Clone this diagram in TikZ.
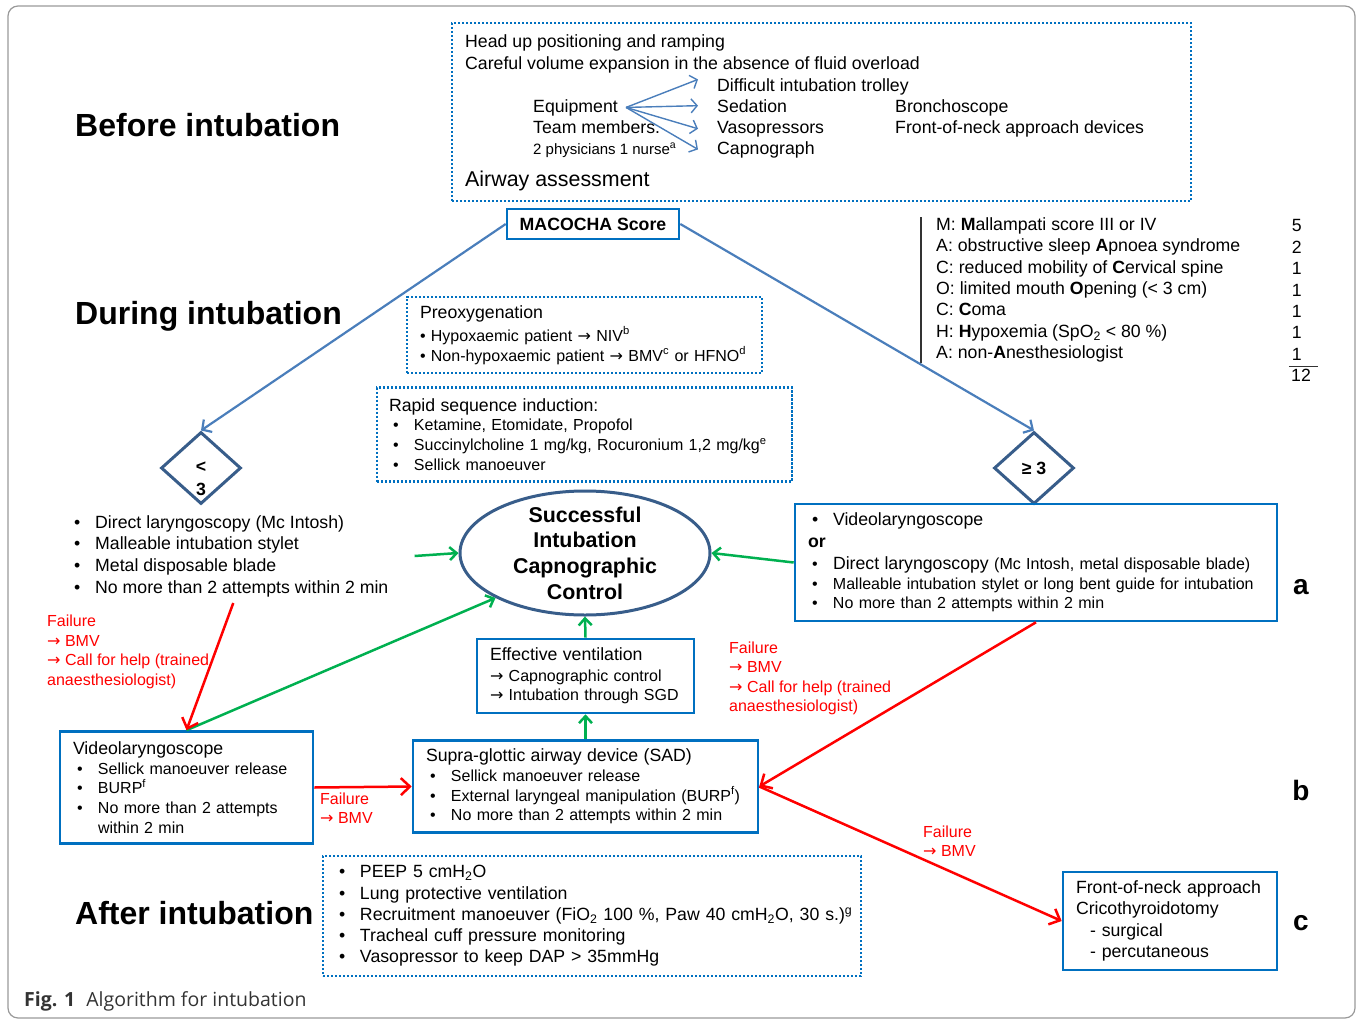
\documentclass[tikz,border=0pt]{standalone}
\usepackage{fontspec}
\setmainfont{Liberation Sans}
\newfontfamily\capfont{Open Sans}
\newfontfamily\symfont{DejaVu Sans}
\usetikzlibrary{shapes.geometric, arrows.meta}

\definecolor{boxblue}{RGB}{0,112,192}
\definecolor{linkblue}{RGB}{74,126,187}
\definecolor{shapeblue}{RGB}{56,93,138}
\definecolor{okgreen}{RGB}{0,176,80}
\definecolor{failred}{RGB}{255,0,0}

\newcommand{\bul}{\makebox[25pt][l]{\hspace{4pt}\textbullet}}
\newcommand{\arr}{{\symfont →}}

\begin{document}
\begin{tikzpicture}[x=1pt, y=-1pt,
    txt/.style={inner sep=0pt, anchor=base west, font={\fontsize{17.7}{21.4}\selectfont}},
    heading/.style={inner sep=0pt, anchor=west, font={\fontsize{32}{38}\selectfont\bfseries}},
    tag/.style={inner sep=0pt, font={\fontsize{28}{32}\selectfont\bfseries}},
    solidbox/.style={rectangle, draw=boxblue, line width=2.6pt, inner xsep=13pt, inner ysep=0pt, align=left},
    dotbox/.style={rectangle, draw=boxblue, line width=2.6pt, dash pattern=on 2.4pt off 1.6pt, inner xsep=13pt, inner ysep=0pt, align=left},
    decision/.style={diamond, draw=shapeblue, line width=3pt, minimum width=80pt, minimum height=72pt, inner sep=0pt, font={\fontsize{17.7}{23}\selectfont\bfseries}},
    failtext/.style={inner sep=0pt, anchor=west, align=left, text=failred, font={\fontsize{16}{19.5}\selectfont}},
    bluearrow/.style={draw=linkblue, line width=2.2pt, -{Straight Barb[length=7pt, width=15pt]}},
    thinarrow/.style={draw=linkblue, line width=1.4pt, -{Straight Barb[length=6pt, width=14pt]}},
    greenarrow/.style={draw=okgreen, line width=2.5pt, -{Straight Barb[length=7pt, width=13pt]}},
    redarrow/.style={draw=failred, line width=2.5pt, -{Straight Barb[length=9pt, width=17pt]}}
]
\useasboundingbox (0,0) rectangle (1361,1020);
\draw[black!40, line width=1.2pt, rounded corners=10pt] (8,6) rectangle (1355,1018);

% Phases
\node[heading] (before) at (75,125) {Before intubation};
\node[heading] (during) at (75,316) {During intubation};
\node[heading] (after) at (75,913) {After intubation};

% Preparation
\node[dotbox, minimum width=739pt, minimum height=178pt] (prep) at (821.5,112) {};
\node[txt] (headup) at (465,47) {Head up positioning and ramping};
\node[txt] (volume) at (465,69) {Careful volume expansion in the absence of fluid overload};
\node[txt] (trolley) at (717,91) {Difficult intubation trolley};
\node[txt] (equip) at (533,112) {Equipment};
\node[txt] (sedation) at (717,112) {Sedation};
\node[txt] (broncho) at (895,112) {Bronchoscope};
\node[txt] (team) at (533,133) {Team members.};
\node[txt] (vaso) at (717,133) {Vasopressors};
\node[txt] (fonadev) at (895,133) {Front-of-neck approach devices};
\node[txt, font={\fontsize{15}{18}\selectfont}] (nurse) at (533,154) {2 physicians 1 nurse\textsuperscript{a}};
\node[txt] (capno) at (717,154) {Capnograph};
\node[txt, font={\fontsize{21.4}{25}\selectfont}] (airway) at (465,186) {Airway assessment};

% Score
\node[solidbox, minimum width=172pt, minimum height=30pt, inner xsep=0pt, font={\fontsize{17.7}{21}\selectfont\bfseries}] (macocha) at (593,224) {MACOCHA Score};
\node[inner sep=0pt, anchor=west, align=left, font={\fontsize{17.7}{21.4}\selectfont}] (crit) at (936,290) {M: \textbf{M}allampati score III or IV\\
  A: obstructive sleep \textbf{A}pnoea syndrome\\
  C: reduced mobility of \textbf{C}ervical spine\\
  O: limited mouth \textbf{O}pening (< 3 cm)\\
  C: \textbf{C}oma\\
  H: \textbf{H}ypoxemia (SpO\textsubscript{2} < 80 \%)\\
  A: non-\textbf{A}nesthesiologist};
\node[inner sep=0pt, anchor=east, align=right, font={\fontsize{17.7}{21.4}\selectfont}] (points) at (1302,290) {5\\2\\1\\1\\1\\1\\1};
\node[inner sep=0pt, font={\fontsize{17.7}{21.4}\selectfont}] (total) at (1301,375) {12};
\draw[black!80, line width=1.2pt] ([xshift=-15pt]crit.north west) -- ([xshift=-15pt]crit.south west);
\draw[black!80, line width=1pt] ([xshift=-2pt,yshift=2pt]total.north west) -- ([xshift=7pt,yshift=2pt]total.north east);

% Induction
\node[dotbox, minimum height=76pt, text width=329pt, font={\fontsize{16}{20}\selectfont}] (preox) at (584.5,335) {{\fontsize{17.7}{21}\selectfont Preoxygenation}\\[3pt]
  • Hypoxaemic patient \arr{} NIV\textsuperscript{b}\\
  \mbox{• Non-hypoxaemic patient \arr{} BMV\textsuperscript{c} or HFNO\textsuperscript{d}}};
\node[dotbox, minimum height=94pt, text width=391pt, inner xsep=12pt, font={\fontsize{16}{19.7}\selectfont}] (rsi) at (584.5,434.5) {{\fontsize{17.7}{21}\selectfont Rapid sequence induction:}\\
  \bul Ketamine, Etomidate, Propofol\\
  \mbox{\bul Succinylcholine 1 mg/kg, Rocuronium 1,2 mg/kg\textsuperscript{e}}\\
  \bul Sellick manoeuver};

% Decisions
\node[decision, label={[align=center, inner sep=0pt, yshift=-11pt, font={\fontsize{17.7}{23}\selectfont\bfseries}]center:{<\\3}}] (low) at (201,468) {};
\node[decision] (high) at (1034,468) {≥ 3};

\node[inner sep=0pt, anchor=west, align=left, font={\fontsize{17.7}{21.7}\selectfont}] (dlist) at (70,556) {\bul Direct laryngoscopy (Mc Intosh)\\
  \bul Malleable intubation stylet\\
  \bul Metal disposable blade\\
  \bul No more than 2 attempts within 2 min};

\node[ellipse, draw=shapeblue, line width=3pt, minimum width=250pt, minimum height=124pt, inner sep=0pt,
  label={[align=center, inner sep=0pt, font={\fontsize{21.4}{25.7}\selectfont\bfseries}]center:{Successful\\Intubation\\Capnographic\\Control}}] (success) at (585,553) {};

\node[solidbox, minimum height=117pt, text width=456pt, font={\fontsize{16}{19.5}\selectfont}] (videobox) at (1036,562.5) {{\fontsize{17.7}{21}\selectfont\bul Videolaryngoscope}\\[2.5pt]
  {\fontsize{17.7}{21}\selectfont\textbf{or}}\\[2.5pt]
  \mbox{\bul{\fontsize{17.7}{21}\selectfont Direct laryngoscopy} (Mc Intosh, metal disposable blade)}\\
  \mbox{\bul Malleable intubation stylet or long bent guide for intubation}\\
  \bul No more than 2 attempts within 2 min};

% Rescue
\node[solidbox, minimum height=74pt, text width=191pt, font={\fontsize{16}{19.5}\selectfont}] (ventil) at (585.5,676) {{\fontsize{17.7}{21}\selectfont Effective ventilation}\\[1pt]
  \mbox{\arr{} Capnographic control}\\
  \mbox{\arr{} Intubation through SGD}};
\node[solidbox, minimum height=112pt, text width=227pt, font={\fontsize{16}{19.7}\selectfont}] (lvideo) at (186.5,787.5) {{\fontsize{17.7}{21}\selectfont Videolaryngoscope}\\
  \bul Sellick manoeuver release\\
  \bul BURP\textsuperscript{f}\\
  \bul No more than 2 attempts\\
  \hspace*{25pt}within 2 min};
\node[solidbox, minimum height=92pt, text width=319pt, font={\fontsize{16}{19.7}\selectfont}] (sad) at (585.5,786.5) {{\fontsize{17.7}{21}\selectfont Supra-glottic airway device (SAD)}\\
  \bul Sellick manoeuver release\\
  \mbox{\bul External laryngeal manipulation (BURP\textsuperscript{f})}\\
  \bul No more than 2 attempts within 2 min};
\node[solidbox, minimum height=98pt, text width=188pt, font={\fontsize{17.7}{21.3}\selectfont}] (neck) at (1170,921) {\mbox{Front-of-neck approach}\\
  Cricothyroidotomy\\
  \hspace*{14pt}- surgical\\
  \hspace*{14pt}- percutaneous};

% Ventilation after
\node[dotbox, minimum height=120pt, text width=514pt, inner xsep=12pt, font={\fontsize{17.7}{21.2}\selectfont}] (afterbox) at (592,916) {\bul PEEP 5 cmH\textsubscript{2}O\\
  \bul Lung protective ventilation\\
  \mbox{\bul Recruitment manoeuver (FiO\textsubscript{2} 100 \%, Paw 40 cmH\textsubscript{2}O, 30 s.)\textsuperscript{g}}\\
  \bul Tracheal cuff pressure monitoring\\
  \bul Vasopressor to keep DAP > 35mmHg};

% Failure notes
\node[failtext] (fail1) at (47,652) {Failure\\\arr{} BMV\\\arr{} Call for help (trained\\anaesthesiologist)};
\node[failtext] (fail2) at (729,678.5) {Failure\\\arr{} BMV\\\arr{} Call for help (trained\\anaesthesiologist)};
\node[failtext] (fail3) at (320,808) {Failure\\\arr{} BMV};
\node[failtext] (fail4) at (923,841) {Failure\\\arr{} BMV};

\node[tag] (tagA) at (1301,587) {a};
\node[tag] (tagB) at (1301,790) {b};
\node[tag] (tagC) at (1301,923) {c};

\node[inner sep=0pt, anchor=base west, text=black!80, font={\capfont\fontsize{19.5}{22}\selectfont}] (caption) at (24,1006) {\textbf{Fig. 1}\hspace{11pt}Algorithm for intubation};

% Arrows
\draw[thinarrow] ([xshift=8pt]equip.east) -- ([xshift=-19pt,yshift=7pt]trolley.west);
\draw[thinarrow] ([xshift=8pt]equip.east) -- ([xshift=-19pt]sedation.west);
\draw[thinarrow] ([xshift=8pt]equip.east) -- ([xshift=-19pt]vaso.west);
\draw[thinarrow] ([xshift=8pt]equip.east) -- ([xshift=-19pt]capno.west);

\draw[bluearrow] (macocha.west) -- (low.north);
\draw[bluearrow] (macocha.east) -- (high.north);

\draw[greenarrow] ([xshift=26pt]dlist.east) -- (success.west);
\draw[greenarrow] (videobox.west) -- (success.east);
\draw[greenarrow] (lvideo.north) -- (success.south west);
\draw[greenarrow] (ventil.north) -- (success.south);
\draw[greenarrow] (sad.north) -- (ventil.south);

\draw[redarrow] ([xshift=4pt,yshift=-6pt]dlist.south) -- (lvideo.north);
\draw[redarrow] (videobox.south) -- (sad.east);
\draw[redarrow] (lvideo.east) -- (sad.west);
\draw[redarrow] (sad.east) -- (neck.west);

\end{tikzpicture}
\end{document}
